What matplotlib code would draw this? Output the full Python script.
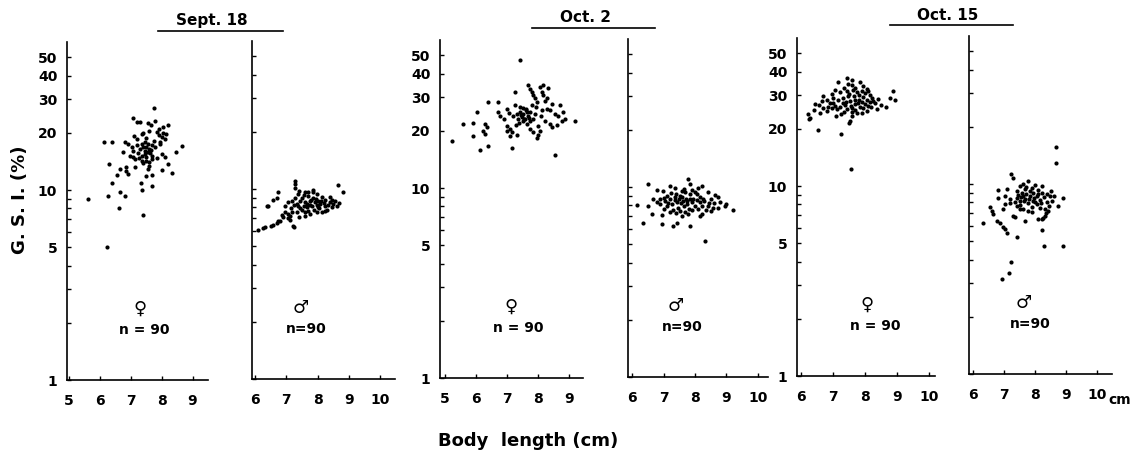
import matplotlib
matplotlib.use("Agg")
import matplotlib.pyplot as plt
from matplotlib.lines import Line2D

plt.rcParams['font.family'] = ['DejaVu Sans']
plt.rcParams['font.weight'] = 'bold'

# body length (cm) and G.S.I. (%), 90 fish per panel
sept18_f_len = [7.74, 7.06, 7.2, 7.3, 7.55, 7.65, 7.8, 8.2, 7.93, 8.03, 7.4, 7.37, 8.0, 8.1, 7.95,
                6.13, 6.39, 6.8, 7.2, 7.55, 7.5, 7.45, 7.03, 7.06, 8.65, 8.48, 8.0, 6.74, 6.97, 7.06,
                7.35, 7.5, 7.68, 7.35, 7.5, 7.68, 7.84, 7.6, 7.55, 8.2, 8.0, 8.32, 6.3, 6.65, 6.84,
                6.84, 6.9, 7.13, 6.55, 7.5, 7.68, 7.32, 6.39, 7.35, 7.7, 6.65, 6.8, 6.26, 5.61, 6.61,
                7.39, 6.23, 7.45, 7.6, 7.4, 7.55, 7.65, 7.3, 7.45, 7.62, 7.5, 7.7, 7.35, 7.25, 7.8,
                7.9, 8.05, 7.85, 7.15, 7.4, 7.2, 7.75, 8.15, 7.58, 7.28, 7.95, 7.1, 6.9, 7.6, 8.1]
sept18_f_gsi = [27, 24, 22.9, 22.9, 22.5, 22, 23, 22, 21, 20, 20, 19.6, 19, 18.6, 18,
                18, 18, 18, 18.6, 17.5, 16.9, 16.1, 16.9, 16.1, 17.1, 15.9, 15.5, 15.9, 15.1, 14.9,
                15.1, 14.9, 15.1, 14.2, 14.2, 14.6, 14.8, 13.3, 12.9, 13.7, 12.7, 12.3, 13.7, 12.9, 13.2,
                12.6, 12.2, 13.2, 12, 11.9, 12, 10.9, 10.9, 10, 10.5, 9.8, 9.3, 9.3, 8.96, 8.0,
                7.4, 5.0, 17.8, 16.5, 16.8, 15.8, 16.2, 16.4, 15.4, 15.6, 18.8, 17.2, 17.4, 15.6, 16.8,
                19.5, 21.5, 20.2, 14.5, 13.8, 17.3, 18.2, 19.6, 14.0, 14.8, 17.5, 19.2, 17.4, 20.4, 15.0]

sept18_m_len = [7.28, 7.28, 7.28, 8.66, 8.82, 6.74, 6.7, 6.42, 7.6, 7.7, 7.86, 7.98, 7.38, 7.5, 7.28,
                8.14, 8.24, 8.46, 8.56, 8.4, 7.18, 7.06, 6.96, 7.6, 7.76, 7.92, 8.08, 8.24, 8.02, 7.82,
                7.66, 7.38, 7.5, 7.34, 7.18, 7.06, 7.98, 8.14, 8.3, 7.76, 7.6, 6.9, 6.74, 6.58, 6.32,
                6.1, 7.25, 6.38, 6.58, 6.26, 6.8, 7.22, 7.12, 8.46, 8.62, 7.7, 7.85, 7.45, 7.95, 8.1,
                7.55, 7.35, 7.65, 7.8, 8.0, 8.2, 8.35, 7.9, 7.7, 7.45, 8.05, 7.25, 7.15, 8.5, 8.7,
                7.6, 7.4, 7.85, 7.05, 6.95, 6.85, 8.25, 7.55, 7.75, 7.98, 8.4, 6.5, 6.7, 7.12, 7.4]
sept18_m_gsi = [11.0, 10.6, 10.1, 10.5, 9.6, 9.6, 9.0, 8.1, 9.7, 9.6, 9.7, 9.4, 9.4, 9.0, 9.0,
                9.1, 8.8, 8.8, 8.6, 8.5, 8.6, 8.5, 8.1, 8.5, 8.6, 8.5, 8.3, 8.1, 8.0, 8.1,
                8.0, 8.1, 7.8, 7.6, 7.6, 7.4, 7.6, 7.6, 7.8, 7.4, 7.2, 7.1, 6.8, 6.5, 6.3,
                6.1, 6.3, 8.1, 8.8, 6.2, 6.8, 6.35, 6.9, 8.0, 8.1, 9.2, 9.0, 8.7, 8.9, 8.7,
                9.3, 8.3, 8.3, 8.8, 8.6, 8.4, 8.2, 7.8, 7.7, 7.9, 7.9, 8.2, 7.9, 8.3, 8.4,
                7.6, 9.8, 9.9, 7.0, 7.6, 7.3, 7.7, 8.1, 8.2, 8.2, 9.1, 6.4, 6.6, 7.2, 7.1]

oct2_f_len = [7.42, 7.26, 7.68, 7.74, 7.8, 7.84, 7.9, 7.97, 8.06, 8.16, 8.32, 8.13, 8.16, 8.23, 8.29,
              6.39, 6.71, 6.03, 6.99, 7.26, 7.42, 7.52, 7.42, 7.32, 7.52, 7.65, 7.74, 7.68, 7.58, 7.48,
              7.36, 7.52, 7.65, 7.74, 7.84, 6.71, 6.77, 8.13, 8.29, 8.39, 8.55, 8.71, 8.81, 8.65, 8.77,
              8.87, 9.19, 8.23, 8.39, 8.45, 8.0, 8.06, 8.0, 7.97, 6.99, 7.1, 6.99, 7.16, 7.32, 7.1,
              7.74, 7.84, 6.29, 6.36, 6.23, 6.29, 5.58, 5.9, 5.9, 5.23, 6.13, 6.39, 7.16, 8.55, 7.45,
              7.6, 7.55, 7.38, 7.7, 7.62, 7.2, 7.9, 8.1, 7.8, 7.3, 8.45, 6.9, 7.05, 8.6, 7.95]
oct2_f_gsi = [47, 32.2, 34.7, 33.4, 32.2, 30.7, 29.6, 28.5, 34, 34.7, 33.8, 32.2, 30.7, 28.8, 29.6,
              28.5, 28.5, 25.2, 26, 27.2, 26.8, 26.5, 25.2, 24.6, 24.6, 25.2, 25.2, 24.0, 23.2, 23.7,
              23.2, 22.4, 21.8, 22.6, 23.2, 25.2, 24.0, 25.6, 26, 25.6, 24.6, 27.4, 25.2, 24, 22.4,
              23.2, 22.4, 22.4, 21.8, 21, 21.2, 20, 19.1, 18.4, 21.2, 20.5, 20, 19.8, 19.1, 18.8,
              20.5, 19.8, 21.8, 21, 20, 19.3, 21.8, 22.1, 18.8, 17.7, 15.9, 16.6, 16.3, 14.9, 24.2,
              25.8, 23.0, 22.0, 23.5, 26.0, 23.8, 24.5, 23.8, 27.5, 21.5, 27.8, 23.0, 24.8, 21.5, 26.8]

oct2_m_len = [7.78, 7.84, 6.51, 7.2, 6.79, 6.98, 8.1, 8.22, 7.59, 7.68, 7.84, 7.52, 7.37, 6.67, 6.89,
              7.05, 7.2, 8.06, 8.16, 8.63, 8.73, 6.89, 7.11, 7.27, 7.43, 7.62, 7.75, 7.9, 8.0, 7.3,
              7.52, 7.68, 7.78, 8.22, 8.41, 8.57, 8.73, 8.95, 9.21, 8.16, 8.22, 6.16, 6.63, 6.35, 6.95,
              7.3, 7.43, 7.84, 8.32, 7.4, 7.5, 7.6, 7.7, 7.35, 7.55, 7.65, 7.45, 7.85, 7.95, 8.05,
              8.15, 8.3, 8.45, 8.35, 8.5, 7.1, 7.0, 7.25, 7.9, 8.0, 7.15, 6.8, 7.8, 7.9, 8.1,
              8.6, 8.8, 9.0, 7.58, 7.4, 7.2, 6.5, 6.95, 8.4, 7.65, 7.35, 8.5, 7.0, 8.25, 7.75]
oct2_m_gsi = [11.0, 10.4, 10.4, 10.1, 9.7, 9.5, 9.9, 10.1, 9.5, 9.4, 9.2, 9.0, 8.9, 8.6, 8.7,
              8.4, 8.6, 9.2, 8.9, 9.1, 8.9, 8.1, 7.9, 8.1, 8.3, 8.4, 8.1, 8.3, 7.9, 7.6,
              7.5, 7.4, 7.2, 7.9, 7.9, 7.8, 7.8, 7.9, 7.6, 7.0, 7.2, 8.0, 7.2, 6.45, 6.4,
              6.2, 6.45, 6.2, 5.2, 9.2, 8.7, 8.9, 8.7, 8.5, 8.2, 7.9, 7.8, 8.7, 8.6, 8.5,
              8.3, 8.4, 8.2, 7.6, 7.5, 9.0, 8.8, 9.3, 9.6, 9.4, 8.2, 8.3, 7.7, 7.6, 7.7,
              8.2, 8.3, 8.1, 7.0, 7.3, 7.4, 7.9, 7.1, 9.4, 9.8, 9.9, 8.7, 7.7, 8.6, 8.4]

oct15_f_len = [7.44, 7.16, 7.47, 7.59, 7.84, 7.06, 7.22, 7.62, 7.75, 7.9, 8.0, 8.16, 8.88, 8.94, 8.78,
               6.69, 6.66, 6.44, 7.31, 7.47, 7.53, 7.69, 8.06, 8.22, 8.31, 8.16, 7.0, 6.84, 6.69, 6.81,
               6.97, 7.12, 7.22, 7.38, 7.44, 7.59, 7.69, 7.78, 7.94, 8.06, 7.9, 7.75, 7.59, 7.53, 8.38,
               8.66, 6.22, 6.28, 6.25, 6.53, 7.25, 7.56, 7.5, 7.3, 7.5, 7.65, 7.8, 7.95, 8.1, 7.85,
               7.7, 7.4, 7.15, 7.0, 6.9, 7.55, 8.0, 8.2, 8.25, 7.35, 7.6, 8.05, 7.7, 7.35, 6.95,
               6.8, 8.4, 8.5, 7.25, 7.1, 6.6, 6.4, 7.8, 8.1, 7.45, 7.6, 7.95, 6.55, 7.05, 7.9]
oct15_f_gsi = [37.2, 35.1, 34.5, 34.2, 35.1, 32.2, 31.1, 32.2, 31.4, 31.8, 30.7, 30.3, 31.8, 28.5, 29.2,
               29.9, 27.9, 26.9, 29.0, 29.6, 27.9, 28.5, 28.5, 29.0, 27.2, 27.6, 27.2, 26.2, 25.6, 24.7,
               25.6, 25.3, 26.2, 26.6, 25.3, 25.6, 26.9, 27.2, 25.6, 24.7, 24.1, 24.1, 23.3, 22.1, 25.3,
               25.9, 23.8, 22.8, 22.5, 19.6, 18.7, 12.3, 21.4, 27.5, 30.5, 29.8, 28.2, 29.3, 26.5, 26.0,
               25.0, 27.8, 28.2, 29.0, 27.5, 26.4, 27.0, 26.2, 28.0, 24.5, 24.6, 32.5, 33.0, 33.0, 30.5,
               28.5, 28.6, 26.8, 24.0, 23.5, 24.2, 25.2, 30.0, 31.5, 31.6, 36.0, 33.6, 26.6, 26.4, 27.8]

oct15_m_len = [8.68, 8.68, 7.23, 7.29, 7.77, 7.52, 7.61, 8.0, 8.23, 6.81, 7.1, 7.42, 7.58, 7.68, 7.84,
               7.94, 8.1, 8.23, 8.39, 8.48, 6.81, 7.03, 7.19, 7.42, 7.52, 7.68, 7.77, 7.94, 8.06, 8.55,
               8.9, 8.74, 7.03, 7.42, 7.52, 7.61, 7.77, 7.9, 8.16, 8.32, 8.42, 8.32, 8.26, 8.23, 7.29,
               7.35, 6.55, 6.61, 6.65, 6.77, 6.87, 6.97, 7.03, 7.1, 6.32, 7.68, 8.1, 8.23, 7.42, 8.29,
               8.9, 7.23, 7.16, 6.94, 7.6, 7.7, 7.85, 7.95, 8.05, 8.15, 8.3, 8.4, 7.45, 7.55, 7.65,
               7.8, 8.2, 8.0, 7.35, 7.5, 7.9, 8.1, 8.45, 8.35, 7.2, 7.7, 7.9, 8.5, 6.95, 8.6]
oct15_m_gsi = [15.6, 12.9, 11.3, 10.7, 10.4, 9.8, 10.0, 9.9, 9.8, 9.3, 9.4, 9.2, 9.0, 9.4, 9.2,
               9.0, 8.9, 9.0, 8.9, 8.65, 8.45, 8.65, 8.35, 8.45, 8.15, 8.35, 7.95, 8.15, 7.85, 8.15,
               8.45, 7.65, 7.85, 7.65, 7.4, 7.4, 7.2, 7.1, 7.5, 7.4, 7.2, 6.8, 6.6, 6.55, 6.8,
               6.7, 7.58, 7.22, 6.97, 6.4, 6.25, 5.96, 5.81, 5.54, 6.25, 6.4, 6.55, 5.74, 5.28, 4.74,
               4.74, 3.9, 3.42, 3.18, 8.7, 8.9, 8.6, 8.4, 8.7, 8.2, 8.5, 8.0, 8.8, 8.55, 8.1,
               8.3, 7.9, 8.0, 8.0, 7.8, 7.6, 9.3, 7.7, 7.05, 7.9, 9.7, 9.5, 9.2, 7.4, 8.7]

dates = ['Sept. 18', 'Oct. 2', 'Oct. 15']
gsi_ticks = [1, 2, 3, 4, 5, 6, 7, 8, 9, 10, 20, 30, 40, 50]
gsi_labels = ['1', '', '', '', '5', '', '', '', '', '10', '20', '30', '40', '50']

W, H = 1142, 454
fig = plt.figure(figsize=(W / 100, H / 100), dpi=100)

# (left px, right px, y=1 px, xlim, xticks, sex, symbol x, n x, series)
panels = [
    (67, 208, 380, (4.94, 9.5), [5, 6, 7, 8, 9], 'f', 0.52, 0.55, sept18_f_len, sept18_f_gsi),
    (252, 395, 379, (5.9, 10.48), [6, 7, 8, 9, 10], 'm', 0.34, 0.38, sept18_m_len, sept18_m_gsi),
    (440, 583, 378, (4.84, 9.45), [5, 6, 7, 8, 9], 'f', 0.50, 0.545, oct2_f_len, oct2_f_gsi),
    (628, 768, 377, (5.87, 10.32), [6, 7, 8, 9, 10], 'm', 0.34, 0.386, oct2_m_len, oct2_m_gsi),
    (797, 935, 376, (5.87, 10.19), [6, 7, 8, 9, 10], 'f', 0.51, 0.565, oct15_f_len, oct15_f_gsi),
    (969, 1112, 374, (5.87, 10.48), [6, 7, 8, 9, 10], 'm', 0.38, 0.427, oct15_m_len, oct15_m_gsi),
]

ylim = (1, 60)
decade = 190
for left, right, base, xlim, xt, sex, sym_x, n_x, xs, ys in panels:
    hpx = decade * 1.778
    ax = fig.add_axes([left / W, 1 - base / H, (right - left) / W, hpx / H])
    ax.scatter(xs, ys, s=9, color='black', linewidths=0)
    ax.set_yscale('log')
    ax.set_ylim(*ylim)
    ax.set_xlim(*xlim)
    ax.minorticks_off()
    if sex == 'f':
        ax.set_yticks(gsi_ticks, gsi_labels)
    else:
        ax.set_yticks(gsi_ticks, [''] * len(gsi_ticks))
    ax.set_xticks(xt, [str(v) for v in xt])
    for s in ['top', 'right']:
        ax.spines[s].set_visible(False)
    for s in ['left', 'bottom']:
        ax.spines[s].set_linewidth(1.2)
    ax.tick_params(axis='y', direction='in', length=3, width=1, pad=7, labelsize=10)
    ax.tick_params(axis='x', direction='in', length=3, width=1, pad=10, labelsize=10)
    symbol = '\u2640' if sex == 'f' else '\u2642'
    ax.text(sym_x, 0.21, symbol, transform=ax.transAxes, ha='center', va='center', fontsize=13)
    ax.text(n_x, 0.148, 'n = 90' if sex == 'f' else 'n=90', transform=ax.transAxes,
            ha='center', va='center', fontsize=10)

# date headings with rule underneath
heads = [(212, 20, 158, 283, 31), (585, 18, 532, 655, 28), (948, 16, 890, 1013, 25)]
for label, (tx, ty, x0, x1, ly) in zip(dates, heads):
    fig.text(tx / W, 1 - ty / H, label, ha='center', va='center', fontsize=11)
    fig.add_artist(Line2D([x0 / W, x1 / W], [1 - ly / H, 1 - ly / H], color='black', lw=1.2))

fig.text(1120 / W, 1 - 400 / H, 'cm', ha='center', va='center', fontsize=10)
fig.text(20 / W, 1 - 200 / H, 'G. S. I. (%)', rotation=90, ha='center', va='center', fontsize=13)
fig.text(528 / W, 1 - 441 / H, 'Body  length (cm)', ha='center', va='center', fontsize=13)

fig.savefig('out.png', dpi=100)
